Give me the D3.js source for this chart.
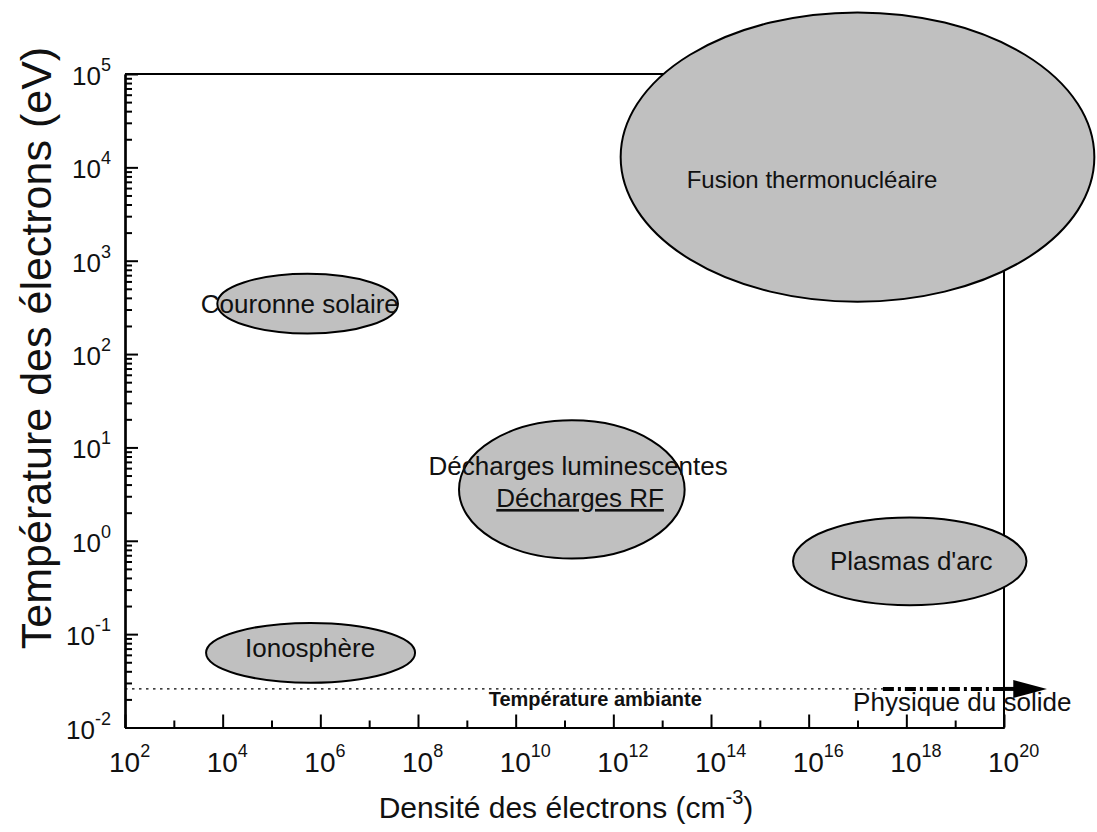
<!DOCTYPE html>
<html>
<head>
<meta charset="utf-8">
<script src="https://cdn.jsdelivr.net/npm/d3@7"></script>
<style>
  html, body { margin: 0; padding: 0; background: #fff; }
  svg { display: block; font-family: "Liberation Sans", Arial, Helvetica, sans-serif; }
</style>
</head>
<body>
<svg id="chart" width="1097" height="832"></svg>
<script>
// Electron density (cm^-3) and temperature (eV) domains of plasma families, log10 units
const regionNames = ["Fusion thermonucléaire", "Couronne solaire", "Décharges luminescentes", "Plasmas d'arc", "Ionosphère"];
const regionLogDensity = [17.0, 5.74, 11.15, 18.07, 5.80];      // ellipse centre, log10 n
const regionLogTemp = [4.11, 2.54, 0.55, -0.22, -1.20];          // ellipse centre, log10 T
const regionSpreadDensity = [4.85, 1.85, 2.31, 2.39, 2.14];      // half-width in decades
const regionSpreadTemp = [1.55, 0.32, 0.74, 0.47, 0.32];         // half-height in decades

// Text labels placed in data space (log10 n, log10 T of baseline)
const labelTexts = ["Fusion thermonucléaire", "Couronne solaire", "Décharges luminescentes", "Décharges RF", "Plasmas d'arc", "Ionosphère"];
const labelLogDensity = [16.07, 5.58, 11.28, 11.32, 18.10, 5.79];
const labelLogTemp = [3.78, 2.44, 0.705, 0.362, -0.313, -1.245];
const labelUnderlined = [false, false, false, true, false, false];

// Room temperature (kT at 300 K) and the solid-state arrow
const roomTemperature = 0.0259;
const solidArrowLogDensity = [17.52, 20.19, 20.88];   // dash start, head base, tip

// Axis ticks (exponents of ten)
const xMajorExponents = [2, 4, 6, 8, 10, 12, 14, 16, 18, 20];
const xMinorExponents = [3, 5, 7, 9, 11, 13, 15, 17, 19];
const yMajorExponents = [-2, -1, 0, 1, 2, 3, 4, 5];

const svg = d3.select("#chart");
const plotLeft = 125, plotRight = 1004, plotTop = 74, plotBottom = 727.5;
const labelFontSize = (i) => (i === 0 ? 24 : 26);

const x = d3.scaleLog().domain([1e2, 1e20]).range([plotLeft, plotRight]);
const y = d3.scaleLog().domain([1e-2, 1e5]).range([plotBottom, plotTop]);

// Minor log ticks on the temperature axis
const yMinorValues = [];
for (let e = -2; e < 5; e++) {
  for (let m = 2; m <= 9; m++) yMinorValues.push(m * Math.pow(10, e));
}

// Frame (top and right sides, no ticks)
svg.append("path")
  .attr("d", `M${plotLeft},${plotTop}H${plotRight}V${plotBottom}`)
  .attr("fill", "none").attr("stroke", "#000").attr("stroke-width", 2);

// Room-temperature dotted line
svg.append("line")
  .attr("x1", x(1e2)).attr("x2", x(Math.pow(10, solidArrowLogDensity[0])))
  .attr("y1", y(roomTemperature)).attr("y2", y(roomTemperature))
  .attr("stroke", "#000").attr("stroke-width", 1.4).attr("stroke-dasharray", "2.5,4.5");

// Bottom axis: major and minor ticks pointing inward
const xAxisMajor = d3.axisBottom(x)
  .tickValues(xMajorExponents.map(e => Math.pow(10, e)))
  .tickSizeInner(-13).tickSizeOuter(0).tickFormat("");
const xAxisMinor = d3.axisBottom(x)
  .tickValues(xMinorExponents.map(e => Math.pow(10, e)))
  .tickSizeInner(-7).tickSizeOuter(0).tickFormat("");

const gxMinor = svg.append("g").attr("transform", `translate(0,${plotBottom})`).call(xAxisMinor);
const gx = svg.append("g").attr("transform", `translate(0,${plotBottom})`).call(xAxisMajor);
[gx, gxMinor].forEach(g => {
  g.select(".domain").attr("stroke", "#000").attr("stroke-width", 2.2);
  g.selectAll(".tick line").attr("stroke", "#000").attr("stroke-width", 2);
});

// Left axis
const yAxisMajor = d3.axisLeft(y)
  .tickValues(yMajorExponents.map(e => Math.pow(10, e)))
  .tickSizeInner(-13).tickSizeOuter(0).tickFormat("");
const yAxisMinor = d3.axisLeft(y)
  .tickValues(yMinorValues)
  .tickSizeInner(-7).tickSizeOuter(0).tickFormat("");

const gyMinor = svg.append("g").attr("transform", `translate(${plotLeft},0)`).call(yAxisMinor);
const gy = svg.append("g").attr("transform", `translate(${plotLeft},0)`).call(yAxisMajor);
[gy, gyMinor].forEach(g => {
  g.select(".domain").attr("stroke", "#000").attr("stroke-width", 2.2);
  g.selectAll(".tick line").attr("stroke", "#000").attr("stroke-width", 2);
});

// Tick labels as 10 with superscript exponent
const xLabels = svg.append("g").attr("font-size", 28).attr("fill", "#111");
xMajorExponents.forEach(e => {
  const t = xLabels.append("text")
    .attr("x", x(Math.pow(10, e)) - 16).attr("y", 772);
  t.append("tspan").text("10");
  t.append("tspan").attr("font-size", 18).attr("dy", -15).text(e);
});

const yLabels = svg.append("g").attr("font-size", 26).attr("fill", "#111");
yMajorExponents.forEach(e => {
  const t = yLabels.append("text")
    .attr("x", 111).attr("y", y(Math.pow(10, e)) + 11)
    .attr("text-anchor", "end");
  t.append("tspan").text("10");
  t.append("tspan").attr("font-size", 18).attr("dy", -14).text(e);
});

// Axis titles
const xTitle = svg.append("text")
  .attr("x", 566).attr("y", 818).attr("text-anchor", "middle")
  .attr("font-size", 30).attr("fill", "#111");
xTitle.append("tspan").text("Densité des électrons (cm");
xTitle.append("tspan").attr("font-size", 20).attr("dy", -14).text("-3");
xTitle.append("tspan").attr("dy", 14).text(")");

svg.append("text")
  .attr("transform", `translate(51,348) rotate(-90)`)
  .attr("text-anchor", "middle").attr("font-size", 43).attr("fill", "#111")
  .text("Température des électrons (eV)");

// Plasma regions as ellipses in log space
regionNames.forEach((name, i) => {
  const cx = x(Math.pow(10, regionLogDensity[i]));
  const cy = y(Math.pow(10, regionLogTemp[i]));
  const rx = x(Math.pow(10, regionLogDensity[i] + regionSpreadDensity[i])) - cx;
  const ry = cy - y(Math.pow(10, regionLogTemp[i] + regionSpreadTemp[i]));
  svg.append("ellipse")
    .attr("cx", cx).attr("cy", cy).attr("rx", rx).attr("ry", ry)
    .attr("fill", "#c0c0c0").attr("stroke", "#000").attr("stroke-width", 2);
});

// Region labels
labelTexts.forEach((txt, i) => {
  const px = x(Math.pow(10, labelLogDensity[i]));
  const py = y(Math.pow(10, labelLogTemp[i]));
  const t = svg.append("text")
    .attr("x", px).attr("y", py).attr("text-anchor", "middle")
    .attr("font-size", labelFontSize(i)).attr("fill", "#111").text(txt);
  if (labelUnderlined[i]) t.attr("text-decoration", "underline");
});

// Solid-state physics arrow along room temperature
const yr = y(roomTemperature);
const hb = x(Math.pow(10, solidArrowLogDensity[1]));
const tip = x(Math.pow(10, solidArrowLogDensity[2]));
svg.append("line")
  .attr("x1", x(Math.pow(10, solidArrowLogDensity[0])))
  .attr("x2", x(1e20))
  .attr("y1", yr).attr("y2", yr)
  .attr("stroke", "#000").attr("stroke-width", 4)
  .attr("stroke-dasharray", "11,4,3,4");
svg.append("line")
  .attr("x1", x(1e20)).attr("x2", hb + 2).attr("y1", yr).attr("y2", yr)
  .attr("stroke", "#000").attr("stroke-width", 4);
svg.append("path")
  .attr("d", `M${hb},${yr - 9}L${tip},${yr}L${hb},${yr + 9}Z`)
  .attr("fill", "#000");

svg.append("text")
  .attr("x", x(Math.pow(10, 16.91))).attr("y", y(Math.pow(10, -1.823)))
  .attr("font-size", 26).attr("fill", "#111").text("Physique du solide");

svg.append("text")
  .attr("x", x(Math.pow(10, 11.63))).attr("y", y(Math.pow(10, -1.77)))
  .attr("text-anchor", "middle").attr("font-size", 20).attr("font-weight", "bold")
  .attr("fill", "#111").text("Température ambiante");
</script>
</body>
</html>
